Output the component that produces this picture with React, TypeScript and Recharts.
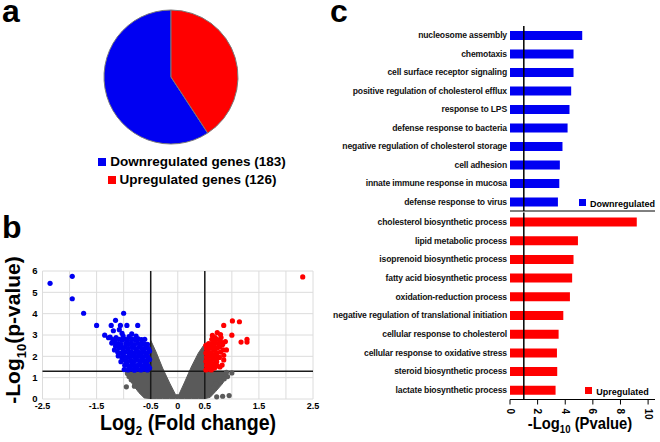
import React from "react";
import {
  Area,
  Bar,
  BarChart,
  CartesianGrid,
  Cell,
  ComposedChart,
  Legend,
  Pie,
  PieChart,
  ReferenceLine,
  Scatter,
  XAxis,
  YAxis,
} from "recharts";

const FONT = '"Liberation Sans", Arial, sans-serif';
const BLUE = "#0000f2";
const RED = "#ff0000";
const GRAY = "#5a5a5a";

// a: gene counts
const geneGroups = ["Downregulated genes", "Upregulated genes"];
const geneCounts = [183, 126];
const groupColors = [BLUE, RED];

// b: volcano plot
const foldTicks = [-2.5, -2, -1.5, -1, -0.5, 0, 0.5, 1, 1.5, 2, 2.5];
const foldTickLabels = ["-2.5", "", "-1.5", "", "-0.5", "0", "0.5", "", "1.5", "", "2.5"];
const pTicks = [0, 1, 2, 3, 4, 5, 6];
const foldCutoffs = [-0.5, 0.5];
const pCutoff = 1.3;

// outline of the dense grey (not significant) cloud
const grayEdgeX = [-0.95, -0.85, -0.72, -0.62, -0.55, -0.5, -0.4, -0.28, -0.15, -0.04, 0.02, 0.12, 0.25, 0.38, 0.5, 0.51, 0.6, 0.7, 0.82, 0.93];
const grayEdgeLow = [1.25, 0.75, 0.3, 0.05, 0.03, 0.02, 0.02, 0.02, 0.02, 0.02, 0.02, 0.02, 0.02, 0.02, 0.02, 0.02, 0.08, 0.35, 0.7, 1.1];
const grayEdgeHigh = [1.3, 1.3, 1.3, 1.3, 1.9, 2.75, 2.2, 1.45, 0.75, 0.2, 0.2, 0.75, 1.5, 2.15, 2.6, 1.3, 1.3, 1.3, 1.3, 1.3];

const grayPoints = [
  [-0.95, 0.57], [-0.9, 1.05], [-0.86, 0.9], [-0.93, 1.2], [-0.8, 0.6],
  [0.72, 0.1], [0.83, 0.13], [0.95, 0.16], [1.0, 1.22], [0.92, 1.05],
  [0.86, 0.95], [0.78, 0.85], [0.7, 0.72], [0.66, 0.55], [0.9, 1.25],
];

const bluePoints = [
  [-2.36, 5.42], [-1.95, 5.75], [-1.95, 4.7], [-1.74, 4.02], [-1.5, 3.45], [-1.0, 4.02],
  [-1.15, 3.69], [-1.23, 3.45], [-1.06, 3.45], [-0.94, 3.45], [-0.74, 3.45], [-1.35, 2.99],
  [-1.28, 2.87], [-1.19, 3.2], [-1.03, 3.08], [-0.85, 3.05], [-1.08, 3.25],
  [-1.22, 2.62], [-1.2, 2.78], [-1.25, 2.9],
  [-1.17, 2.3], [-1.15, 2.48], [-1.16, 2.68], [-1.14, 2.88],
  [-1.1, 2.02], [-1.11, 2.2], [-1.09, 2.4], [-1.1, 2.6], [-1.08, 2.8],
  [-1.05, 1.75], [-1.03, 1.95], [-1.04, 2.15], [-1.02, 2.36], [-1.05, 2.55], [-1.03, 2.75], [-1.01, 2.95],
  [-0.99, 1.38], [-0.98, 1.58], [-0.97, 1.8], [-0.99, 2.0], [-0.97, 2.2], [-0.98, 2.42], [-0.96, 2.6], [-0.97, 2.8],
  [-0.92, 1.36], [-0.91, 1.55], [-0.93, 1.75], [-0.92, 1.96], [-0.9, 2.15], [-0.92, 2.35], [-0.91, 2.55], [-0.93, 2.74], [-0.9, 2.92],
  [-0.86, 1.4], [-0.85, 1.6], [-0.87, 1.8], [-0.85, 2.0], [-0.86, 2.22], [-0.84, 2.42], [-0.86, 2.62], [-0.85, 2.82],
  [-0.8, 1.35], [-0.79, 1.55], [-0.81, 1.75], [-0.79, 1.95], [-0.8, 2.15], [-0.78, 2.35], [-0.8, 2.55], [-0.79, 2.78], [-0.77, 2.95],
  [-0.74, 1.4], [-0.73, 1.6], [-0.75, 1.82], [-0.73, 2.02], [-0.74, 2.22], [-0.72, 2.42], [-0.74, 2.62], [-0.73, 2.82],
  [-0.68, 1.36], [-0.67, 1.56], [-0.69, 1.76], [-0.67, 1.96], [-0.68, 2.16], [-0.66, 2.36], [-0.68, 2.56], [-0.67, 2.78],
  [-0.62, 1.4], [-0.61, 1.6], [-0.63, 1.8], [-0.61, 2.0], [-0.62, 2.2], [-0.6, 2.4], [-0.62, 2.6], [-0.61, 2.8],
  [-0.56, 1.36], [-0.55, 1.56], [-0.57, 1.76], [-0.55, 1.96], [-0.56, 2.16], [-0.54, 2.36], [-0.56, 2.56],
  [-0.52, 1.45], [-0.52, 1.85], [-0.52, 2.25],
];

const redPoints = [
  [2.31, 5.72], [0.85, 3.45], [1.01, 3.66], [1.14, 3.62], [1.0, 2.99], [1.17, 2.67], [1.28, 2.67],
  [1.28, 2.8], [0.73, 3.11], [0.79, 3.02], [0.88, 2.69], [0.9, 2.3], [0.85, 1.83], [0.82, 1.59], [0.85, 2.05],
  [0.52, 1.36], [0.53, 1.56], [0.52, 1.76], [0.53, 1.96], [0.52, 2.16], [0.53, 2.36], [0.52, 2.52],
  [0.57, 1.4], [0.58, 1.6], [0.57, 1.8], [0.58, 2.0], [0.57, 2.2], [0.58, 2.4], [0.57, 2.6],
  [0.62, 1.36], [0.63, 1.56], [0.62, 1.78], [0.63, 1.98], [0.62, 2.18], [0.63, 2.4], [0.62, 2.6], [0.63, 2.8], [0.64, 2.98],
  [0.68, 1.45], [0.67, 1.65], [0.68, 1.86], [0.67, 2.06], [0.68, 2.28], [0.67, 2.5], [0.68, 2.7], [0.69, 2.88],
  [0.73, 1.55], [0.72, 1.75], [0.73, 1.95], [0.72, 2.15], [0.73, 2.38], [0.74, 2.6], [0.72, 2.8],
  [0.78, 1.5], [0.77, 1.95], [0.79, 2.2], [0.78, 2.45], [0.79, 2.7], [0.8, 2.88],
  [0.83, 2.55], [0.84, 2.3],
];

// c: GO terms, -log10(p)
const downTerms = [
  "nucleosome assembly",
  "chemotaxis",
  "cell surface receptor signaling",
  "positive regulation of cholesterol efflux",
  "response to LPS",
  "defense response to bacteria",
  "negative regulation of cholesterol storage",
  "cell adhesion",
  "innate immune response in mucosa",
  "defense response to virus",
];
const downValues = [5.23, 4.6, 4.6, 4.43, 4.31, 4.17, 3.8, 3.61, 3.57, 3.47];
const upTerms = [
  "cholesterol biosynthetic process",
  "lipid metabolic process",
  "isoprenoid biosynthetic process",
  "fatty acid biosynthetic process",
  "oxidation-reduction process",
  "negative regulation of translational initiation",
  "cellular response to cholesterol",
  "cellular response to oxidative stress",
  "steroid biosynthetic process",
  "lactate biosynthetic process",
];
const upValues = [9.18, 4.92, 4.6, 4.5, 4.34, 3.86, 3.52, 3.4, 3.42, 3.3];
const goTicks = [0, 2, 4, 6, 8, 10];
const goCutoff = 1;

const pieData = geneGroups.map((g, i) => ({ name: `${g} (${geneCounts[i]})`, value: geneCounts[i] }));
const grayBand = grayEdgeX.map((x, i) => ({ x, band: [grayEdgeLow[i], grayEdgeHigh[i]] }));
const toXY = (pts: number[][]) => pts.map(([x, y]) => ({ x, y }));
const downData = downTerms.map((term, i) => ({ term, value: downValues[i] }));
const upData = upTerms.map((term, i) => ({ term, value: upValues[i] }));

const dot = (color: string) => (p: any) => <circle cx={p.cx} cy={p.cy} r={2.6} fill={color} />;

const TermTick = (p: any) => (
  <text
    x={p.x}
    y={p.y}
    textAnchor="end"
    dominantBaseline="central"
    fontSize={8.6}
    fontWeight={700}
    letterSpacing={-0.15}
    fill="#111"
  >
    {p.payload.value}
  </text>
);

const RotatedTick = (p: any) => (
  <text
    x={p.x}
    y={p.y + 2}
    transform={`rotate(90, ${p.x}, ${p.y + 2})`}
    textAnchor="start"
    dominantBaseline="central"
    fontSize={10}
    fontWeight={700}
    fill="#000"
  >
    {p.payload.value}
  </text>
);

const legendText = (size: number) => (v: string) => (
  <span style={{ color: "#000", fontWeight: 700, fontSize: size }}>{v}</span>
);

const letter: React.CSSProperties = {
  position: "absolute",
  fontWeight: 700,
  fontSize: 32,
  lineHeight: "22px",
};

const title: React.CSSProperties = {
  position: "absolute",
  whiteSpace: "nowrap",
  fontWeight: 700,
  lineHeight: 1,
};

export default function App() {
  return (
    <div
      style={{
        position: "absolute",
        left: 0,
        top: 0,
        width: 660,
        height: 442,
        background: "#fff",
        fontFamily: FONT,
        overflow: "hidden",
      }}
    >
      <div style={{ ...letter, left: 2, top: 0 }}>a</div>
      <div style={{ ...letter, left: 2, top: 216 }}>b</div>
      <div style={{ ...letter, left: 330, top: 0 }}>c</div>

      {/* a */}
      <div style={{ position: "absolute", left: 0, top: 0 }}>
        <PieChart width={330} height={200} margin={{ top: 0, right: 0, bottom: 0, left: 0 }}>
          <Pie
            data={pieData}
            dataKey="value"
            nameKey="name"
            cx={171}
            cy={77}
            outerRadius={67}
            startAngle={90}
            endAngle={450}
            stroke="#7a7a7a"
            strokeWidth={1}
            isAnimationActive={false}
          >
            {pieData.map((d, i) => (
              <Cell key={d.name} fill={groupColors[i]} />
            ))}
          </Pie>
          <Legend
            layout="horizontal"
            verticalAlign="middle"
            align="center"
            iconType="square"
            iconSize={8}
            formatter={legendText(13.5)}
            wrapperStyle={{ left: 97, top: 152, width: 200, lineHeight: "17px", textAlign: "left" }}
          />
        </PieChart>
      </div>

      {/* b */}
      <div style={{ position: "absolute", left: 0, top: 260 }}>
        <ComposedChart width={320} height={159} data={grayBand} margin={{ top: 11, right: 7, bottom: 0, left: 0 }}>
          <CartesianGrid stroke="#dcdcdc" />
          <XAxis
            type="number"
            dataKey="x"
            domain={[-2.5, 2.5]}
            ticks={foldTicks}
            tickFormatter={(v: number) => foldTickLabels[foldTicks.indexOf(v)] ?? ""}
            axisLine={false}
            tickLine={false}
            tickSize={0}
            tickMargin={4}
            height={20}
            interval={0}
            tick={{ fontSize: 9, fontWeight: 700, fill: "#000" }}
          />
          <YAxis
            type="number"
            dataKey="y"
            domain={[0, 6]}
            ticks={pTicks}
            axisLine={false}
            tickLine={false}
            tickSize={0}
            tickMargin={5}
            width={42.5}
            interval={0}
            tick={{ fontSize: 9.5, fontWeight: 700, fill: "#000" }}
          />
          <Area dataKey="band" type="linear" fill={GRAY} stroke={GRAY} fillOpacity={1} isAnimationActive={false} />
          <Scatter data={toXY(grayPoints)} shape={dot(GRAY)} isAnimationActive={false} />
          <Scatter data={toXY(bluePoints)} shape={dot(BLUE)} isAnimationActive={false} />
          <Scatter data={toXY(redPoints)} shape={dot(RED)} isAnimationActive={false} />
          {foldCutoffs.map((c) => (
            <ReferenceLine key={c} x={c} stroke="#1a1a1a" strokeWidth={1.5} />
          ))}
          <ReferenceLine y={pCutoff} stroke="#1a1a1a" strokeWidth={1.5} />
        </ComposedChart>
      </div>
      <div
        style={{
          ...title,
          left: 15,
          top: 330,
          fontSize: 21,
          transform: "translate(-50%, -50%) rotate(-90deg)",
        }}
      >
        -Log<sub style={{ fontSize: 13 }}>10</sub>(p-value)
      </div>
      <div
        style={{
          ...title,
          left: 188,
          top: 412,
          fontSize: 22,
          transform: "translateX(-50%) scaleX(0.89)",
        }}
      >
        Log<sub style={{ fontSize: 13 }}>2</sub> (Fold change)
      </div>

      {/* c: downregulated */}
      <div style={{ position: "absolute", left: 330, top: 0 }}>
        <BarChart
          width={330}
          height={220}
          layout="vertical"
          data={downData}
          margin={{ top: 26, right: 5, bottom: 1, left: 0 }}
          barCategoryGap={0}
        >
          <XAxis
            type="number"
            domain={[0, 10.5]}
            ticks={goTicks}
            tick={false}
            height={8}
            tickSize={6}
            axisLine={{ stroke: "#000" }}
            tickLine={{ stroke: "#000" }}
          />
          <YAxis
            type="category"
            dataKey="term"
            width={180}
            axisLine={false}
            tickLine={false}
            tickSize={0}
            tickMargin={3}
            interval={0}
            tick={<TermTick />}
          />
          <Bar dataKey="value" name="Downregulated" fill={BLUE} barSize={9} isAnimationActive={false} />
          <ReferenceLine x={goCutoff} stroke="#000" strokeWidth={1.5} />
          <Legend
            layout="horizontal"
            verticalAlign="middle"
            align="center"
            iconType="square"
            iconSize={7}
            formatter={legendText(9)}
            wrapperStyle={{ left: 242, top: 195, width: 100, lineHeight: "14px", textAlign: "left" }}
          />
        </BarChart>
      </div>

      {/* c: upregulated */}
      <div style={{ position: "absolute", left: 330, top: 200 }}>
        <BarChart
          width={330}
          height={242}
          layout="vertical"
          data={upData}
          margin={{ top: 12.5, right: 5, bottom: 12.5, left: 0 }}
          barCategoryGap={0}
        >
          <XAxis
            type="number"
            domain={[0, 10.5]}
            ticks={goTicks}
            tick={<RotatedTick />}
            height={30}
            tickSize={5}
            axisLine={{ stroke: "#000" }}
            tickLine={{ stroke: "#000" }}
          />
          <YAxis
            type="category"
            dataKey="term"
            width={180}
            axisLine={false}
            tickLine={false}
            tickSize={0}
            tickMargin={3}
            interval={0}
            tick={<TermTick />}
          />
          <Bar dataKey="value" name="Upregulated" fill={RED} barSize={9} isAnimationActive={false} />
          <ReferenceLine x={goCutoff} stroke="#000" strokeWidth={1.5} />
          <Legend
            layout="horizontal"
            verticalAlign="middle"
            align="center"
            iconType="square"
            iconSize={7}
            formatter={legendText(9)}
            wrapperStyle={{ left: 242, top: 183, width: 100, lineHeight: "14px", textAlign: "left" }}
          />
        </BarChart>
      </div>
      <div
        style={{
          ...title,
          left: 580,
          top: 415,
          fontSize: 17,
          transform: "translateX(-50%) scaleX(0.87)",
        }}
      >
        -Log<sub style={{ fontSize: 11 }}>10</sub> (Pvalue)
      </div>
    </div>
  );
}
